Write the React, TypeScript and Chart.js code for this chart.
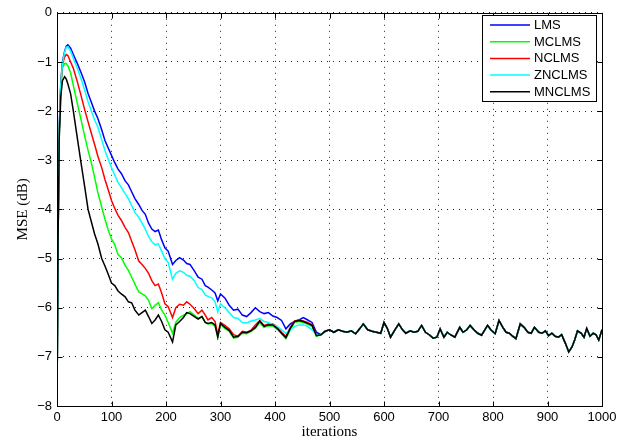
import React, { useEffect, useRef } from "react";
import { Chart, registerables } from "chart.js";

Chart.register(...registerables);

// iterations sampled during the convergence phase (shared by all series)
const ITER_HEAD = [
  0, 2, 4, 7, 10,
  14, 17, 20, 25, 30,
  38, 45, 51, 57, 63,
  69, 75, 82, 88, 94,
  100, 106, 112, 118, 125,
  131, 137, 143, 150, 156,
  162, 168, 174, 180, 186,
  192, 198, 204, 212, 218,
  225, 232, 238, 244, 252,
  259, 266, 272, 277, 284,
  290, 295, 300, 308, 316,
  324, 332, 340, 348, 356,
  364, 372, 380, 388, 396,
  404, 412, 420, 428, 436,
  444, 452, 460, 468, 476,
];

const LMS_HEAD = [
  -8, -4.6, -2.4, -1.4, -1.0,
  -0.78, -0.68, -0.65, -0.72, -0.85,
  -1.05, -1.24, -1.42, -1.64, -1.82,
  -2.0, -2.15, -2.38, -2.6, -2.75,
  -2.9, -3.05, -3.18, -3.27, -3.42,
  -3.5, -3.64, -3.78, -3.9, -4.02,
  -4.1, -4.28, -4.4, -4.45, -4.42,
  -4.62, -4.78, -4.85, -5.12, -5.04,
  -4.98, -5.03, -5.1, -5.12, -5.25,
  -5.38, -5.42, -5.55, -5.58, -5.64,
  -5.7, -5.86, -5.72, -5.8, -5.95,
  -6.05, -6.03, -6.15, -6.18, -6.1,
  -6.0, -6.08, -6.12, -6.1, -6.17,
  -6.2, -6.26, -6.43, -6.33, -6.28,
  -6.25, -6.2, -6.25, -6.3, -6.5,
];

const MCLMS_HEAD = [
  -8, -4.6, -2.5, -1.55, -1.12,
  -1.03, -1.03, -1.08, -1.22, -1.48,
  -1.88, -2.22, -2.52, -2.8, -3.05,
  -3.35, -3.66, -3.95, -4.2, -4.42,
  -4.6, -4.72, -4.92, -4.98, -5.14,
  -5.24, -5.38, -5.52, -5.68, -5.72,
  -5.76, -5.85, -6.02, -5.95, -5.9,
  -6.05, -6.15, -6.3, -6.52, -6.3,
  -6.2, -6.15, -6.12, -6.08, -6.15,
  -6.22, -6.18, -6.3, -6.33, -6.32,
  -6.38, -6.6, -6.34, -6.42, -6.48,
  -6.62, -6.6, -6.52, -6.53, -6.48,
  -6.42, -6.3, -6.4, -6.37, -6.37,
  -6.44, -6.53, -6.63, -6.45, -6.3,
  -6.28, -6.3, -6.34, -6.38, -6.58,
];

const NCLMS_HEAD = [
  -8, -4.6, -2.45, -1.5, -1.05,
  -0.9, -0.85, -0.87, -1.0, -1.13,
  -1.43, -1.72, -1.98, -2.22, -2.45,
  -2.68, -2.92, -3.15, -3.39, -3.6,
  -3.82, -3.98, -4.12, -4.22, -4.37,
  -4.47, -4.65, -4.82, -5.05, -5.12,
  -5.2, -5.3, -5.45, -5.55, -5.52,
  -5.7, -5.92, -5.98, -6.2, -6.0,
  -5.93, -5.95, -5.88, -5.93, -6.02,
  -6.12, -6.05, -6.15, -6.25, -6.2,
  -6.28, -6.55, -6.3, -6.36, -6.43,
  -6.55, -6.58, -6.48, -6.5, -6.46,
  -6.35, -6.26, -6.36, -6.33, -6.33,
  -6.4, -6.5, -6.58, -6.4, -6.27,
  -6.25, -6.27, -6.3, -6.35, -6.55,
];

const ZNCLMS_HEAD = [
  -8, -4.6, -2.4, -1.45, -1.03,
  -0.8, -0.7, -0.69, -0.78, -0.93,
  -1.15, -1.37, -1.58, -1.81, -2.0,
  -2.18, -2.33, -2.58, -2.8, -2.98,
  -3.15, -3.3, -3.45, -3.55, -3.68,
  -3.78, -3.92, -4.06, -4.16, -4.28,
  -4.4, -4.55, -4.66, -4.72, -4.7,
  -4.85, -5.0, -5.08, -5.42, -5.3,
  -5.25, -5.28, -5.34, -5.36, -5.45,
  -5.59, -5.63, -5.74, -5.77, -5.8,
  -5.88, -6.08, -5.92, -6.0, -6.1,
  -6.2, -6.22, -6.3, -6.31, -6.27,
  -6.25, -6.22, -6.28, -6.3, -6.35,
  -6.38, -6.45, -6.52, -6.45, -6.38,
  -6.35, -6.35, -6.38, -6.45, -6.55,
];

const MNCLMS_HEAD = [
  -8, -4.6, -2.6, -1.7, -1.38,
  -1.3, -1.35, -1.45, -1.65, -2.0,
  -2.6, -3.12, -3.55, -4.0, -4.25,
  -4.5, -4.7, -5.0, -5.15, -5.32,
  -5.5, -5.55, -5.66, -5.72, -5.78,
  -5.88, -5.9, -6.05, -6.15, -6.1,
  -6.05, -6.18, -6.32, -6.25, -6.15,
  -6.28, -6.45, -6.5, -6.7, -6.35,
  -6.28, -6.2, -6.1, -6.12, -6.18,
  -6.23, -6.18, -6.3, -6.32, -6.3,
  -6.35, -6.6, -6.32, -6.4, -6.46,
  -6.6, -6.58, -6.5, -6.51, -6.47,
  -6.4, -6.27, -6.38, -6.35, -6.35,
  -6.42, -6.52, -6.61, -6.42, -6.28,
  -6.26, -6.28, -6.32, -6.36, -6.57,
];

// steady-state part, where all five curves coincide
const ITER_TAIL = [
  484, 492, 500, 508, 516, 524,
  532, 540, 548, 556, 562, 570,
  578, 586, 594, 600, 606, 612,
  620, 627, 634, 640, 648, 655,
  662, 669, 676, 683, 690, 697,
  703, 710, 716, 722, 730, 739,
  745, 752, 758, 765, 772, 779,
  785, 790, 796, 804, 811, 818,
  824, 830, 836, 842, 850, 857,
  864, 870, 876, 884, 890, 896,
  902, 908, 914, 920, 926, 933,
  939, 945, 950, 955, 962, 967,
  972, 978, 984, 989, 994, 1000,
];

const TAIL_MSE = [
  -6.55, -6.48, -6.45, -6.5, -6.45, -6.48,
  -6.5, -6.47, -6.53, -6.42, -6.33, -6.45,
  -6.48, -6.5, -6.52, -6.3, -6.42, -6.6,
  -6.45, -6.33, -6.45, -6.52, -6.47, -6.5,
  -6.48, -6.36, -6.5, -6.55, -6.62, -6.6,
  -6.43, -6.6, -6.5, -6.55, -6.6, -6.4,
  -6.5, -6.45, -6.36, -6.45, -6.52, -6.56,
  -6.45, -6.36, -6.45, -6.53, -6.26, -6.4,
  -6.5, -6.52, -6.58, -6.63, -6.33, -6.4,
  -6.5, -6.52, -6.4, -6.5, -6.52, -6.47,
  -6.57, -6.52, -6.58, -6.6, -6.55, -6.73,
  -6.9, -6.8, -6.65, -6.47, -6.52, -6.6,
  -6.42, -6.58, -6.52, -6.55, -6.66, -6.45,
];

const SERIES_NAMES = ["LMS", "MCLMS", "NCLMS", "ZNCLMS", "MNCLMS"];
const SERIES_HEADS = [LMS_HEAD, MCLMS_HEAD, NCLMS_HEAD, ZNCLMS_HEAD, MNCLMS_HEAD];
const SERIES_COLORS = ["#0000ff", "#00ff00", "#ff0000", "#00ffff", "#000000"];

const X_TICKS = [0, 100, 200, 300, 400, 500, 600, 700, 800, 900, 1000];
const Y_TICKS = [-8, -7, -6, -5, -4, -3, -2, -1, 0];
const X_TITLE = "iterations";
const Y_TITLE = "MSE (dB)";

const TICK_FONT = "Liberation Sans";
const TITLE_FONT = "Liberation Serif";
const LINE_W = 1.5;

function toPoints(head: number[]) {
  const a = ITER_HEAD.map((x, i) => ({ x, y: head[i] }));
  const b = ITER_TAIL.map((x, i) => ({ x, y: TAIL_MSE[i] }));
  return a.concat(b);
}

const framePlugin = {
  id: "matlabFrame",
  afterDatasetsDraw(chart: any) {
    const { ctx, chartArea } = chart;
    const { left, right, top, bottom } = chartArea;
    const xs = chart.scales.x;
    const ys = chart.scales.y;
    const r = (v: number) => Math.round(v) + 0.5;
    ctx.save();
    ctx.strokeStyle = "#000";
    ctx.lineWidth = 1;
    ctx.setLineDash([]);
    ctx.beginPath();
    ctx.rect(r(left), r(top), r(right) - r(left), r(bottom) - r(top));
    ctx.stroke();
    const tl = 5;
    ctx.beginPath();
    X_TICKS.forEach((v) => {
      const px = r(xs.getPixelForValue(v));
      ctx.moveTo(px, r(bottom));
      ctx.lineTo(px, r(bottom) - tl);
      ctx.moveTo(px, r(top));
      ctx.lineTo(px, r(top) + tl);
    });
    Y_TICKS.forEach((v) => {
      const py = r(ys.getPixelForValue(v));
      ctx.moveTo(r(left), py);
      ctx.lineTo(r(left) + tl, py);
      ctx.moveTo(r(right), py);
      ctx.lineTo(r(right) - tl, py);
    });
    ctx.stroke();
    ctx.restore();
  },
  afterDraw(chart: any) {
    const { ctx, chartArea } = chart;
    const { left, right, top, bottom } = chartArea;
    ctx.save();
    // axis titles
    ctx.fillStyle = "#000";
    ctx.font = `15px "${TITLE_FONT}"`;
    ctx.textAlign = "center";
    ctx.textBaseline = "middle";
    ctx.fillText(X_TITLE, (left + right) / 2, 432);
    ctx.save();
    ctx.translate(23, (top + bottom) / 2);
    ctx.rotate(-Math.PI / 2);
    ctx.fillText(Y_TITLE, 0, 0);
    ctx.restore();

    // legend box
    const bx = 482.5, by = 15.5, bw = 114, bh = 86;
    ctx.fillStyle = "#fff";
    ctx.fillRect(bx, by, bw, bh);
    ctx.strokeStyle = "#000";
    ctx.lineWidth = 1;
    ctx.strokeRect(bx, by, bw, bh);
    ctx.font = `13px "${TICK_FONT}"`;
    ctx.textAlign = "left";
    ctx.textBaseline = "middle";
    const rowY = [25, 41.7, 58.4, 75.1, 91.8];
    SERIES_NAMES.forEach((name, i) => {
      const y = rowY[i];
      ctx.strokeStyle = SERIES_COLORS[i];
      ctx.lineWidth = LINE_W;
      ctx.beginPath();
      ctx.moveTo(490, y);
      ctx.lineTo(530, y);
      ctx.stroke();
      ctx.fillStyle = "#000";
      ctx.fillText(name, 534, y + 0.5);
    });
    ctx.restore();
  },
};

export default function App() {
  const canvasRef = useRef<HTMLCanvasElement | null>(null);

  useEffect(() => {
    document.body.style.margin = "0";
    const canvas = canvasRef.current;
    if (!canvas) return;
    const minus = (v: any) => String(v).replace("-", "\u2212");
    const chart = new Chart(canvas, {
      type: "line",
      data: {
        datasets: SERIES_NAMES.map((name, i) => ({
          label: name,
          data: toPoints(SERIES_HEADS[i]),
          borderColor: SERIES_COLORS[i],
          backgroundColor: SERIES_COLORS[i],
          borderWidth: LINE_W,
          pointRadius: 0,
          tension: 0,
          fill: false,
          order: SERIES_NAMES.length - i,
        })),
      },
      options: {
        responsive: false,
        animation: false,
        events: [],
        layout: { padding: { top: 10, right: 28, left: 0, bottom: 0 } },
        plugins: {
          legend: { display: false },
          tooltip: { enabled: false },
          title: { display: false },
        },
        scales: {
          x: {
            type: "linear",
            min: 0,
            max: 1000,
            afterBuildTicks: (s: any) => {
              s.ticks = X_TICKS.map((v) => ({ value: v }));
            },
            ticks: {
              color: "#000",
              font: { family: TICK_FONT, size: 13 },
              padding: 4,
              maxRotation: 0,
              autoSkip: false,
              callback: minus,
            },
            grid: { color: "#222", lineWidth: 1, drawTicks: false },
            border: { display: false, dash: [1, 5] },
            afterFit: (s: any) => {
              s.height = 36;
            },
          },
          y: {
            type: "linear",
            min: -8,
            max: 0,
            afterBuildTicks: (s: any) => {
              s.ticks = Y_TICKS.map((v) => ({ value: v }));
            },
            ticks: {
              color: "#000",
              font: { family: TICK_FONT, size: 13 },
              padding: 5,
              autoSkip: false,
              callback: minus,
            },
            grid: { color: "#222", lineWidth: 1, drawTicks: false },
            border: { display: false, dash: [1, 5] },
            afterFit: (s: any) => {
              s.width = 57;
            },
          },
        },
      },
      plugins: [framePlugin],
    });
    return () => chart.destroy();
  }, []);

  return (
    <div style={{ width: 630, height: 442, background: "#fff" }}>
      <canvas ref={canvasRef} width={630} height={442} style={{ display: "block" }} />
    </div>
  );
}
